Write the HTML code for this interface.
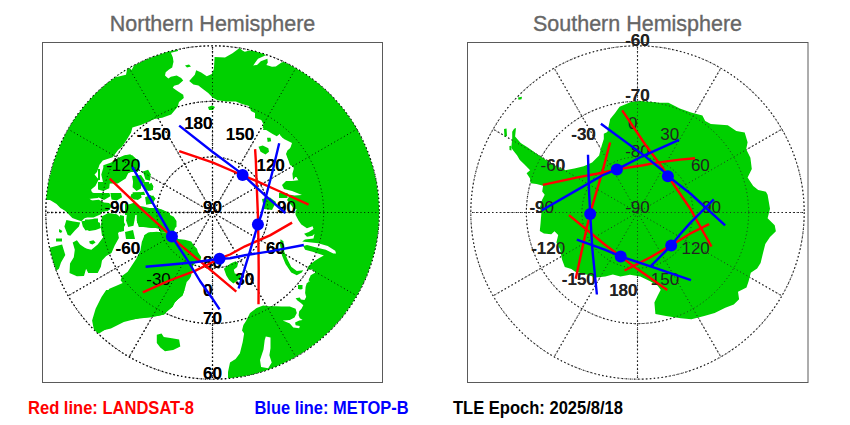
<!DOCTYPE html>
<html><head><meta charset="utf-8"><style>
html,body{margin:0;padding:0;background:#fff;width:850px;height:425px;overflow:hidden}
svg{display:block}
</style></head><body>
<svg width="850" height="425" viewBox="0 0 850 425">
<defs>
<clipPath id="cn"><circle cx="212.5" cy="212.5" r="166.7"/></clipPath>
<clipPath id="cs"><circle cx="637.5" cy="212.5" r="166.7"/></clipPath>
</defs>
<rect x="0" y="0" width="850" height="425" fill="#fff"/>
<g font-family="Liberation Sans, sans-serif" font-size="22.3" fill="#666" stroke="#666" stroke-width="0.35" text-anchor="middle">
<text x="212.5" y="30.8" textLength="205.5" lengthAdjust="spacingAndGlyphs">Northern Hemisphere</text>
<text x="637.5" y="30.8" textLength="209" lengthAdjust="spacingAndGlyphs">Southern Hemisphere</text>
</g>
<rect x="42.5" y="42.5" width="340" height="340" fill="none" stroke="#5a5a5a" stroke-width="1"/>
<rect x="467.5" y="42.5" width="340.5" height="340" fill="none" stroke="#5a5a5a" stroke-width="1"/>
<g fill="none" stroke="#000" stroke-width="1.3" stroke-dasharray="1.5 2.5"><circle cx="212.5" cy="212.5" r="55.57"/><circle cx="212.5" cy="212.5" r="111.13"/><circle cx="212.5" cy="212.5" r="166.70"/><line x1="212.5" y1="212.5" x2="212.50" y2="379.20"/><line x1="212.5" y1="212.5" x2="295.85" y2="356.87"/><line x1="212.5" y1="212.5" x2="356.87" y2="295.85"/><line x1="212.5" y1="212.5" x2="379.20" y2="212.50"/><line x1="212.5" y1="212.5" x2="356.87" y2="129.15"/><line x1="212.5" y1="212.5" x2="295.85" y2="68.13"/><line x1="212.5" y1="212.5" x2="212.50" y2="45.80"/><line x1="212.5" y1="212.5" x2="129.15" y2="68.13"/><line x1="212.5" y1="212.5" x2="68.13" y2="129.15"/><line x1="212.5" y1="212.5" x2="45.80" y2="212.50"/><line x1="212.5" y1="212.5" x2="68.13" y2="295.85"/><line x1="212.5" y1="212.5" x2="129.15" y2="356.87"/></g>
<g fill="none" stroke="#222" stroke-width="1.15" stroke-dasharray="1.5 2.5"><circle cx="637.5" cy="212.5" r="55.57"/><circle cx="637.5" cy="212.5" r="111.13"/><circle cx="637.5" cy="212.5" r="166.70"/><line x1="637.5" y1="212.5" x2="637.50" y2="379.20"/><line x1="637.5" y1="212.5" x2="720.85" y2="356.87"/><line x1="637.5" y1="212.5" x2="781.87" y2="295.85"/><line x1="637.5" y1="212.5" x2="804.20" y2="212.50"/><line x1="637.5" y1="212.5" x2="781.87" y2="129.15"/><line x1="637.5" y1="212.5" x2="720.85" y2="68.13"/><line x1="637.5" y1="212.5" x2="637.50" y2="45.80"/><line x1="637.5" y1="212.5" x2="554.15" y2="68.13"/><line x1="637.5" y1="212.5" x2="493.13" y2="129.15"/><line x1="637.5" y1="212.5" x2="470.80" y2="212.50"/><line x1="637.5" y1="212.5" x2="493.13" y2="295.85"/><line x1="637.5" y1="212.5" x2="554.15" y2="356.87"/></g>
<g font-family="Liberation Sans, sans-serif" font-weight="bold" font-size="17" fill="#000"><text x="170.8" y="140.2" text-anchor="end">-150</text><text x="140.2" y="170.8" text-anchor="end">-120</text><text x="129.0" y="212.5" text-anchor="end">-90</text><text x="140.2" y="254.2" text-anchor="end">-60</text><text x="170.8" y="284.8" text-anchor="end">-30</text><text x="212.5" y="296.0" text-anchor="end">0</text><text x="254.2" y="284.8" text-anchor="end">30</text><text x="284.8" y="254.2" text-anchor="end">60</text><text x="296.0" y="212.5" text-anchor="end">90</text><text x="284.8" y="170.8" text-anchor="end">120</text><text x="254.2" y="140.2" text-anchor="end">150</text><text x="212.5" y="129.0" text-anchor="end">180</text><text x="212.5" y="212.5" text-anchor="middle">90</text><text x="212.5" y="268.1" text-anchor="middle">80</text><text x="212.5" y="323.6" text-anchor="middle">70</text><text x="212.5" y="379.2" text-anchor="middle">60</text></g>
<g font-family="Liberation Sans, sans-serif" font-weight="bold" font-size="17" fill="#222"><text x="595.8" y="284.8" text-anchor="end">-150</text><text x="565.2" y="254.2" text-anchor="end">-120</text><text x="554.0" y="212.5" text-anchor="end">-90</text><text x="565.2" y="170.8" text-anchor="end">-60</text><text x="595.8" y="140.2" text-anchor="end">-30</text><text x="637.5" y="129.0" text-anchor="end">0</text><text x="679.2" y="140.2" text-anchor="end">30</text><text x="709.8" y="170.8" text-anchor="end">60</text><text x="721.0" y="212.5" text-anchor="end">90</text><text x="709.8" y="254.2" text-anchor="end">120</text><text x="679.2" y="284.8" text-anchor="end">150</text><text x="637.5" y="296.0" text-anchor="end">180</text><text x="637.5" y="212.5" text-anchor="middle">-90</text><text x="637.5" y="156.9" text-anchor="middle">-80</text><text x="637.5" y="101.4" text-anchor="middle">-70</text><text x="637.5" y="45.8" text-anchor="middle">-60</text></g>
<g clip-path="url(#cn)">
<path fill="#00d000" d="M40.0,40.0L129.0,40.0L129.0,129.0L40.0,129.0Z"/>
<path fill="#00d000" d="M295.0,40.0L390.0,40.0L390.0,129.0L295.0,129.0Z"/>
<path fill="#00d000" d="M100.0,40.0L170.2,49.0L170.9,52.8L172.8,57.3L173.5,61.8L172.2,67.6L169.0,69.6L165.7,72.2L165.0,75.4L168.3,78.6L170.9,76.7L176.7,75.4L181.2,78.0L183.2,80.6L178.6,84.5L174.1,85.8L172.8,87.7L177.4,91.0L183.2,94.8L183.8,98.0L179.0,102.1L177.7,106.7L171.2,114.4L162.2,117.7L154.4,119.0L141.5,124.8L132.4,127.4L131.1,132.6L127.2,139.0L122.0,146.8L118.1,150.0L112.7,157.3L102.8,160.6L99.5,164.7L97.0,172.1L94.5,174.6L98.7,179.5L95.4,186.1L91.2,189.4L90.4,194.4L60.0,200.0L40.0,200.0L40.0,40.0Z"/>
<path fill="#00d000" d="M189.2,81.1L194.8,74.8L196.2,70.2L201.2,72.6L206.8,76.2L211.8,74.1L213.9,69.1L214.6,57.1L225.0,57.4L232.5,53.2L239.6,48.0L242.4,50.4L244.8,51.8L249.5,50.4L255.0,51.3L262.6,53.6L266.4,55.0L258.0,58.8L253.2,65.4L257.0,65.0L260.8,61.2L267.4,58.8L267.8,62.6L266.4,65.0L272.0,66.8L275.8,66.4L281.5,62.6L285.2,61.6L305.0,72.0L330.0,40.0L400.0,40.0L400.0,130.0L300.0,130.0L263.0,130.0L266.0,119.0L265.0,115.0L257.0,114.0L251.0,111.0L249.0,106.0L242.0,104.0L235.8,101.6L231.5,101.6L226.6,101.6L217.4,100.2L212.5,97.4L208.2,93.1L201.9,88.2L198.4,85.4L193.4,84.6Z"/>
<path fill="#00d000" d="M255.0,118.0L261.3,120.0L263.4,124.2L262.7,127.8L267.0,130.6L272.6,134.1L276.8,136.2L279.7,134.1L282.5,137.7L288.8,139.8L292.4,142.6L291.7,146.8L287.4,150.4L286.0,153.9L288.1,159.5L292.4,163.8L293.8,168.7L292.4,173.7L293.1,180.0L296.0,176.3L300.2,183.4L400.0,183.0L400.0,110.0L255.0,110.0Z"/>
<path fill="#00d000" d="M258.5,146.8L262.7,145.4L268.4,148.2L269.0,151.8L265.5,154.6L260.6,151.8Z"/>
<path fill="#00d000" d="M267.0,137.7L270.5,137.7L271.2,141.2L267.7,141.9Z"/>
<path fill="#00d000" d="M103.3,165.2L111.2,162.6L118.0,158.0L124.4,155.3L132.3,155.3L137.5,159.9L138.8,167.8L133.0,170.0L128.3,173.1L125.7,178.4L117.8,183.5L103.3,183.5L101.3,174.4L103.3,167.8Z"/>
<path fill="#00d000" d="M98.0,169.0L100.0,169.0L100.0,180.0L98.0,180.0Z"/>
<path fill="#00d000" d="M132.0,176.0L141.0,175.0L145.0,181.0L141.0,186.0L134.0,187.0Z"/>
<path fill="#00d000" d="M143.0,182.0L149.0,182.0L150.0,190.0L145.0,191.0Z"/>
<path fill="#00d000" d="M133.2,179.4L137.8,176.8L141.6,180.7L141.0,188.5L136.5,191.0L132.6,187.2Z"/>
<path fill="#00d000" d="M142.9,171.6L148.1,169.7L150.7,174.2L150.0,180.7L145.5,179.4Z"/>
<path fill="#00d000" d="M147.0,185.0L153.0,185.0L153.0,190.0L148.0,191.0Z"/>
<path fill="#00d000" d="M132.6,192.3L140.3,192.3L141.6,197.5L137.8,200.1L132.6,198.8Z"/>
<path fill="#00d000" d="M146.8,197.5L153.3,195.6L155.2,198.8L152.0,204.0L146.8,204.0Z"/>
<path fill="#00d000" d="M125.0,204.0L142.9,206.6L149.4,207.9L155.9,207.9L163.6,211.1L168.8,213.0L159.8,215.0L125.0,215.0Z"/>
<path fill="#00d000" d="M128.0,165.0L137.0,162.0L138.0,172.0L130.0,172.0Z"/>
<path fill="#00d000" d="M98.0,182.0L109.9,182.0L109.2,188.3L103.3,190.9L98.0,189.6Z"/>
<path fill="#00d000" d="M85.0,193.0L109.4,193.0L110.4,196.2L104.0,200.0L98.8,197.6L89.2,198.6L85.0,198.5Z"/>
<path fill="#00d000" d="M85.0,200.5L89.2,200.8L98.8,199.8L104.0,202.5L109.0,203.0L112.0,206.0L108.0,211.0L102.0,212.0L100.9,214.2L93.5,217.4L85.0,217.4Z"/>
<path fill="#00d000" d="M110.4,193.0L121.0,193.0L122.1,197.2L116.8,200.4L111.5,199.4Z"/>
<path fill="#00d000" d="M85.0,219.5L91.4,219.5L99.8,222.7L100.9,228.0L95.6,230.1L89.2,231.1L85.0,229.0Z"/>
<path fill="#00d000" d="M89.2,241.3L93.5,240.2L95.6,242.4L92.4,244.5L89.8,243.4Z"/>
<path fill="#00d000" d="M131.4,194.1L140.9,193.0L139.8,198.3L134.5,199.4L130.3,197.2Z"/>
<path fill="#00d000" d="M145.1,197.2L150.4,195.1L155.7,198.3L152.5,203.6L146.2,204.7Z"/>
<path fill="#00d000" d="M133.5,192.9L144.1,191.8L145.1,195.0L135.0,195.0Z"/>
<path fill="#00d000" d="M128.2,204.7L134.5,202.5L138.8,205.7L136.7,208.9L129.2,210.0Z"/>
<path fill="#00d000" d="M127.1,213.1L131.4,211.0L135.6,213.1L134.5,220.5L133.5,225.8L128.2,226.9L126.1,220.5Z"/>
<path fill="#00d000" d="M136.7,213.1L146.2,208.9L156.8,207.8L165.3,211.0L170.0,213.1L170.0,229.0L163.1,230.1L155.7,228.0L146.2,226.9L138.8,226.9L136.7,220.5Z"/>
<path fill="#00d000" d="M144.1,235.4L150.4,232.2L156.8,233.3L160.0,238.0L144.1,238.0Z"/>
<path fill="#00d000" d="M125.0,232.0L133.0,230.0L135.0,239.0L126.0,239.0Z"/>
<path fill="#00d000" d="M125.0,155.3L130.3,154.2L133.5,157.4L134.0,165.0L131.0,172.0L125.0,174.4Z"/>
<path fill="#00d000" d="M147.2,185.0L151.5,182.8L153.6,187.1L150.4,190.8Z"/>
<path fill="#00d000" d="M137.0,212.6L146.8,209.8L155.3,208.4L162.4,209.8L168.0,214.0L173.7,216.8L176.5,221.0L176.5,226.7L172.3,229.5L165.0,229.0L159.5,228.1L151.0,228.1L141.2,226.7L137.0,222.5Z"/>
<path fill="#00d000" d="M120.0,215.0L124.0,216.0L124.0,231.0L120.0,232.0Z"/>
<path fill="#00d000" d="M95.4,325.8L94.1,315.4L99.2,305.1L105.1,295.0L109.3,288.7L116.4,285.8L122.7,283.0L120.6,280.2L122.0,276.0L127.7,271.7L130.5,267.5L136.1,259.0L140.4,250.5L141.8,242.1L144.6,235.0L148.2,232.4L156.7,231.7L165.2,232.4L170.0,233.0L173.2,233.2L178.1,239.0L184.7,239.8L191.3,241.4L193.8,245.5L197.0,248.8L197.9,252.1L201.2,257.1L200.4,260.4L195.4,262.8L193.0,266.0L192.4,269.2L191.0,276.3L189.5,279.1L186.7,282.0L184.6,289.7L182.5,295.4L178.2,298.9L174.7,302.4L172.6,306.7L168.4,310.2L166.2,311.6L164.1,314.4L158.5,315.8L150.0,317.3L139.4,318.0L123.8,321.9L110.9,328.4L100.5,331.0Z"/>
<path fill="#00d000" d="M160.0,220.0L175.6,220.0L175.6,226.6L173.2,233.2L160.0,232.0Z"/>
<path fill="#00d000" d="M40.0,180.0L93.4,185.6L90.7,188.9L92.0,192.2L98.0,194.9L98.0,198.0L89.4,198.8L93.4,201.4L98.0,204.0L98.0,214.6L89.4,216.0L84.2,218.6L81.5,221.2L77.6,219.9L72.3,217.9L68.4,214.0L65.0,210.7L60.4,208.0L56.5,204.1L51.2,200.8L46.6,198.2L40.0,197.0Z"/>
<path fill="#00d000" d="M66.4,219.9L72.3,221.2L80.2,222.5L78.9,226.5L74.9,230.4L70.3,235.7L67.7,235.0L64.4,226.5Z"/>
<path fill="#00d000" d="M81.5,221.2L86.8,220.5L94.7,218.6L98.0,218.6L98.0,227.8L92.0,229.1L85.5,230.4L82.8,226.5Z"/>
<path fill="#00d000" d="M59.1,229.0L62.4,231.0L61.0,233.0L59.0,232.0Z"/>
<path fill="#00d000" d="M102.0,216.3L108.3,213.1L116.8,214.2L122.1,218.4L125.3,224.8L122.1,230.1L118.0,233.0L118.9,238.1L114.7,245.5L111.5,253.0L106.2,256.1L102.0,260.4L100.9,266.7L97.7,273.1L88.2,273.1L86.1,268.8L84.0,276.0L76.9,276.2L69.5,273.1L70.0,263.5L73.8,257.2L74.8,249.8L72.7,242.4L76.9,240.2L80.1,244.5L84.4,247.6L87.0,248.7L91.4,249.8L97.7,244.5L100.9,240.2L104.1,236.0L102.0,236.0L100.9,228.0Z"/>
<path fill="#00d000" d="M40.0,248.0L50.5,247.6L62.1,244.5L65.3,255.0L61.0,262.5L58.9,268.8L55.8,271.0L40.0,271.0Z"/>
<path fill="#00d000" d="M56.0,238.5L62.0,238.5L62.0,241.4L56.0,241.4Z"/>
<path fill="#00d000" d="M185.0,65.5L189.0,64.5L191.0,66.5L187.0,67.5Z"/>
<path fill="#00d000" d="M208.0,107.0L212.0,105.5L215.0,107.0L213.0,110.0L209.0,110.0Z"/>
<path fill="#fff" d="M90.0,80.0L100.0,87.5L111.3,78.2L126.0,74.8L127.1,69.6L129.5,67.5L131.5,70.0L133.5,66.5L135.0,63.5L125.0,55.0L90.0,60.0Z"/>
<path fill="#00d000" d="M163.0,48.0L170.0,50.0L178.0,48.5L178.0,51.0L170.0,53.0L163.0,53.0Z"/>
<path fill="#00d000" d="M156.8,334.7L161.5,333.5L163.8,337.0L172.0,338.2L179.1,339.4L180.3,346.5L173.2,350.0L165.0,351.2L160.3,347.6L156.8,343.0Z"/>
<path fill="#00d000" d="M94.4,332.4L92.1,320.6L95.6,308.8L101.5,297.0L106.2,290.0L184.6,289.7L182.5,295.4L178.2,298.9L174.7,302.4L172.6,306.7L168.4,310.2L164.1,314.4L158.5,315.8L150.0,317.3L132.0,319.4L122.6,318.2L108.5,327.6L99.1,333.5Z"/>
<path fill="#00d000" d="M282.0,185.0L284.0,189.0L292.0,191.0L302.0,195.0L294.5,195.4L290.3,194.7L287.0,200.0L293.1,207.4L303.0,213.0L400.0,213.0L400.0,180.0L300.0,180.0L292.0,181.0L286.0,181.0Z"/>
<path fill="#00d000" d="M279.0,193.0L287.5,193.0L287.5,198.0L279.0,198.0Z"/>
<path fill="#00d000" d="M262.0,199.0L270.0,197.5L276.0,202.0L272.0,210.0L264.0,209.0Z"/>
<path fill="#00d000" d="M280.0,135.0L284.0,139.0L292.0,143.0L290.0,149.0L287.0,153.0L288.0,159.0L290.0,165.0L294.0,167.0L295.0,177.0L300.0,177.0L300.0,130.0L280.0,130.0Z"/>
<path fill="#00d000" d="M295.6,215.0L298.5,220.6L301.3,224.4L306.9,228.2L312.6,226.3L313.5,229.1L308.8,232.0L304.1,233.8L307.0,236.7L312.6,235.7L314.5,233.8L313.5,238.5L305.0,239.5L302.2,241.4L318.2,243.2L327.7,246.1L335.2,250.8L336.1,253.6L333.3,253.6L325.8,249.8L318.2,248.0L307.0,245.1L303.2,246.1L305.1,249.8L312.6,251.7L323.9,255.5L320.1,257.4L314.5,261.1L308.8,265.8L306.9,269.6L312.6,269.6L315.4,272.4L310.7,275.3L308.8,280.9L306.9,286.6L306.0,295.0L311.0,275.0L400.0,275.0L400.0,205.0L300.0,205.0L295.4,211.6Z"/>
<path fill="#00d000" d="M280.6,239.2L279.9,244.1L282.0,255.4L285.5,263.9L291.2,272.4L296.8,275.2L301.8,272.4L303.2,270.3L296.8,271.0L291.2,266.7L287.7,259.7L284.1,251.2L283.4,241.3Z"/>
<path fill="#00d000" d="M298.0,285.0L302.5,285.0L302.5,289.0L298.0,289.0Z"/>
<path fill="#00d000" d="M223.9,268.8L227.2,266.0L231.0,263.2L235.7,261.3L238.1,263.2L237.1,266.9L233.8,269.8L234.8,273.5L240.4,274.5L240.9,278.2L236.6,281.1L233.4,283.4L229.1,280.1L226.3,275.4Z"/>
<path fill="#00d000" d="M228.0,372.0L230.0,362.4L235.6,358.9L239.9,353.2L242.7,342.0L244.1,333.5L242.0,330.6L243.4,325.0L246.0,321.0L250.0,312.9L256.6,308.0L263.2,305.5L268.1,306.3L276.4,306.3L281.5,306.5L289.8,306.5L295.6,308.8L296.8,312.9L294.5,317.6L289.8,320.0L282.7,320.6L289.8,323.5L293.3,327.6L299.2,328.2L299.8,325.9L295.6,325.3L295.1,322.4L299.2,320.6L302.7,320.0L299.8,318.2L298.6,315.3L299.2,311.2L301.5,308.8L303.3,305.3L300.9,302.9L297.4,300.6L295.6,298.2L299.8,297.6L300.9,299.4L304.5,300.0L306.2,297.1L305.1,292.9L305.6,287.1L306.8,282.9L309.8,281.8L308.6,280.0L311.0,275.0L400.0,275.0L400.0,400.0L228.0,400.0Z"/>
<path fill="#00d000" d="M298.6,286.5L302.1,286.8L301.5,289.4L299.0,289.2Z"/>
<path fill="#fff" d="M265.8,336.5L270.5,337.6L270.5,348.2L269.4,355.3L271.7,362.4L268.2,368.2L261.1,367.1L260.0,360.0L263.5,349.4L264.7,340.0Z"/>
</g>
<g clip-path="url(#cs)">
<path fill="#00d000" d="M514.1,128.8L516.0,127.9L515.1,136.4L520.7,143.0L528.2,147.7L534.8,152.4L541.4,157.1L547.1,160.8L556.0,166.0L565.0,170.3L574.4,168.5L583.8,166.2L592.1,162.6L599.1,155.6L601.5,146.2L603.8,139.1L603.8,133.8L607.4,132.1L610.2,119.0L614.9,113.3L619.6,106.7L630.9,102.0L640.3,101.1L651.6,102.0L660.0,102.7L668.5,102.7L679.8,108.4L691.1,112.6L702.4,115.4L705.2,121.1L710.8,123.9L727.8,125.3L736.3,131.0L744.7,132.4L747.6,142.3L746.2,149.3L750.4,157.8L751.8,169.1L747.6,177.6L753.2,186.0L758.2,190.0L765.9,191.7L767.6,194.7L770.0,208.8L767.6,218.2L774.7,225.3L775.9,231.2L770.0,237.1L765.3,244.1L762.9,253.5L760.6,262.9L757.1,268.5L750.8,272.7L748.6,281.2L746.5,287.5L738.0,291.8L739.1,299.2L733.8,304.5L725.3,307.7L714.7,313.0L704.2,316.1L691.4,319.3L680.8,318.3L666.0,316.1L655.4,314.0L654.4,302.4L657.5,296.0L660.7,289.7L657.5,285.4L650.1,281.2L640.3,276.4L630.0,274.8L620.4,276.5L612.9,274.6L605.3,276.5L595.9,277.4L586.5,274.6L575.2,271.8L571.4,269.0L564.8,267.1L562.0,259.5L560.1,249.2L556.4,242.6L558.2,235.1L554.5,231.3L551.3,234.3L543.9,233.4L539.8,231.0L540.6,222.7L541.4,212.8L539.8,207.9L542.0,200.0L544.7,194.7L542.2,191.4L543.1,185.7L536.5,184.0L530.7,183.2L529.9,178.2L526.6,173.3L530.1,170.3L524.5,164.6L519.8,159.9L517.0,155.2L513.2,150.5L511.3,147.7L512.2,138.2L512.2,131.7Z"/>
<path fill="#00d000" d="M518.0,97.5L522.0,96.8L521.5,99.3L518.5,99.8Z"/>
<path fill="#00d000" d="M504.0,129.0L506.5,128.5L507.0,136.0L504.5,137.0Z"/>
<path fill="#00d000" d="M509.4,146.0L511.3,145.8L511.5,150.5L509.5,150.0Z"/>
</g>
<g fill="none" stroke="#000" stroke-width="0.9" stroke-dasharray="1 2.7"><circle cx="212.5" cy="212.5" r="55.57"/><circle cx="212.5" cy="212.5" r="111.13"/><circle cx="212.5" cy="212.5" r="166.70"/><line x1="212.5" y1="212.5" x2="212.50" y2="379.20"/><line x1="212.5" y1="212.5" x2="295.85" y2="356.87"/><line x1="212.5" y1="212.5" x2="356.87" y2="295.85"/><line x1="212.5" y1="212.5" x2="379.20" y2="212.50"/><line x1="212.5" y1="212.5" x2="356.87" y2="129.15"/><line x1="212.5" y1="212.5" x2="295.85" y2="68.13"/><line x1="212.5" y1="212.5" x2="212.50" y2="45.80"/><line x1="212.5" y1="212.5" x2="129.15" y2="68.13"/><line x1="212.5" y1="212.5" x2="68.13" y2="129.15"/><line x1="212.5" y1="212.5" x2="45.80" y2="212.50"/><line x1="212.5" y1="212.5" x2="68.13" y2="295.85"/><line x1="212.5" y1="212.5" x2="129.15" y2="356.87"/></g>
<g fill="none" stroke="#222" stroke-width="0.9" stroke-dasharray="1 2.7"><circle cx="637.5" cy="212.5" r="55.57"/><circle cx="637.5" cy="212.5" r="111.13"/><circle cx="637.5" cy="212.5" r="166.70"/><line x1="637.5" y1="212.5" x2="637.50" y2="379.20"/><line x1="637.5" y1="212.5" x2="720.85" y2="356.87"/><line x1="637.5" y1="212.5" x2="781.87" y2="295.85"/><line x1="637.5" y1="212.5" x2="804.20" y2="212.50"/><line x1="637.5" y1="212.5" x2="781.87" y2="129.15"/><line x1="637.5" y1="212.5" x2="720.85" y2="68.13"/><line x1="637.5" y1="212.5" x2="637.50" y2="45.80"/><line x1="637.5" y1="212.5" x2="554.15" y2="68.13"/><line x1="637.5" y1="212.5" x2="493.13" y2="129.15"/><line x1="637.5" y1="212.5" x2="470.80" y2="212.50"/><line x1="637.5" y1="212.5" x2="493.13" y2="295.85"/><line x1="637.5" y1="212.5" x2="554.15" y2="356.87"/></g>
<g font-family="Liberation Sans, sans-serif" font-size="17" fill="#000"><text x="170.8" y="140.2" text-anchor="end">-150</text><text x="140.2" y="170.8" text-anchor="end">-120</text><text x="129.0" y="212.5" text-anchor="end">-90</text><text x="140.2" y="254.2" text-anchor="end">-60</text><text x="170.8" y="284.8" text-anchor="end">-30</text><text x="212.5" y="296.0" text-anchor="end">0</text><text x="254.2" y="284.8" text-anchor="end">30</text><text x="284.8" y="254.2" text-anchor="end">60</text><text x="296.0" y="212.5" text-anchor="end">90</text><text x="284.8" y="170.8" text-anchor="end">120</text><text x="254.2" y="140.2" text-anchor="end">150</text><text x="212.5" y="129.0" text-anchor="end">180</text><text x="212.5" y="212.5" text-anchor="middle">90</text><text x="212.5" y="268.1" text-anchor="middle">80</text><text x="212.5" y="323.6" text-anchor="middle">70</text><text x="212.5" y="379.2" text-anchor="middle">60</text></g>
<g font-family="Liberation Sans, sans-serif" font-size="17" fill="#222"><text x="595.8" y="284.8" text-anchor="end">-150</text><text x="565.2" y="254.2" text-anchor="end">-120</text><text x="554.0" y="212.5" text-anchor="end">-90</text><text x="565.2" y="170.8" text-anchor="end">-60</text><text x="595.8" y="140.2" text-anchor="end">-30</text><text x="637.5" y="129.0" text-anchor="end">0</text><text x="679.2" y="140.2" text-anchor="end">30</text><text x="709.8" y="170.8" text-anchor="end">60</text><text x="721.0" y="212.5" text-anchor="end">90</text><text x="709.8" y="254.2" text-anchor="end">120</text><text x="679.2" y="284.8" text-anchor="end">150</text><text x="637.5" y="296.0" text-anchor="end">180</text><text x="637.5" y="212.5" text-anchor="middle">-90</text><text x="637.5" y="156.9" text-anchor="middle">-80</text><text x="637.5" y="101.4" text-anchor="middle">-70</text><text x="637.5" y="45.8" text-anchor="middle">-60</text></g>
<g stroke-width="2.4" stroke-linecap="butt" stroke-linejoin="round" fill="none"><polyline points="179.2,151.1 212.4,162.4 237.1,173 242.6,175.3 255.5,180.7 278.8,191 308.6,204.6" stroke="#f00"/><polyline points="255.1,149.2 255.8,160 256.9,190 257.9,215 258.4,240 258.7,270 258.5,304.3" stroke="#f00"/><polyline points="142.8,292.3 168.2,281 195,270.9 210.3,263.3 219.5,258.5 230,254.5 245,246.3 270,235.4 292.1,222.6" stroke="#f00"/><polyline points="109.7,178.6 142.7,210.2 171.9,236.6 178.1,242.8 195,257.2 200,261.2 236.3,291.6" stroke="#f00"/><polyline points="542.8,184.9 577.7,177.4 602.1,172.7 616.9,169.4 643.3,165.3 655,162.9 680,159.6 695,158.2" stroke="#f00"/><polyline points="622.2,110.3 645.2,144.5 662.1,167.1 667.9,176 690.3,208.8 711.5,246.5" stroke="#f00"/><polyline points="610.1,142.5 602.1,172.7 592.7,204.7 590.2,213.9 586.8,227.4 575.7,278.8" stroke="#f00"/><polyline points="709.1,224.1 690.3,233.5 671.1,245.4 650.5,257.2 624.5,270.5" stroke="#f00"/><polyline points="569,215.1 604.7,244.5 620.6,256.4 636.7,268.6 667.3,290" stroke="#f00"/><polyline points="179.2,125.6 212.4,151.8 237.1,170.1 242.6,174.9 247.8,179.4 265.9,196.2 285.3,213" stroke="#00f"/><polyline points="279.2,143.2 275.2,160 272.9,170 266.1,196 263.8,205 261.3,215 257.9,224.4 249.7,252 238.6,288.5" stroke="#00f"/><polyline points="145.6,266.8 168.2,264.7 195,262.2 219.5,258.7 230,258.3 245,255.3 270,251.4 303.8,245" stroke="#00f"/><polyline points="132.3,166.9 155.8,208.3 171.9,236.6 188,261.2 200,281 211.8,297.7 219.6,309.3" stroke="#00f"/><polyline points="541.9,210.3 577.7,189.6 602.1,175.5 616.9,169.4 643.3,155.8 679.1,139.8" stroke="#00f"/><polyline points="600.9,123.8 643.3,154.9 662.1,170 667.9,176 690.3,193.5 725.1,225.3" stroke="#00f"/><polyline points="588,154.8 589,191.5 590.2,213.9 592.4,249.7 596.9,294.5" stroke="#00f"/><polyline points="713.8,199.4 690.3,222.9 679.5,235 671.1,245.4 664.2,252.6 650.5,266.3" stroke="#00f"/><polyline points="576.8,239.7 604.7,249.7 620.6,256.4 650.5,266.3 691,280.1" stroke="#00f"/></g><g fill="#00f"><circle cx="242.6" cy="174.9" r="6"/><circle cx="257.9" cy="224.4" r="6"/><circle cx="219.5" cy="258.7" r="6"/><circle cx="171.9" cy="236.6" r="6"/><circle cx="616.9" cy="169.4" r="6"/><circle cx="667.9" cy="176.2" r="6"/><circle cx="590.2" cy="213.9" r="6"/><circle cx="671.2" cy="245.4" r="6"/><circle cx="620.7" cy="256.4" r="6"/></g>
<g font-family="Liberation Sans, sans-serif" font-weight="bold" font-size="17.6">
<text x="28" y="414" fill="#f00" textLength="166" lengthAdjust="spacingAndGlyphs">Red line: LANDSAT-8</text>
<text x="254.5" y="414" fill="#00f" textLength="154" lengthAdjust="spacingAndGlyphs">Blue line: METOP-B</text>
<text x="453" y="414" fill="#000" textLength="170" lengthAdjust="spacingAndGlyphs">TLE Epoch: 2025/8/18</text>
</g>
</svg>
</body></html>
